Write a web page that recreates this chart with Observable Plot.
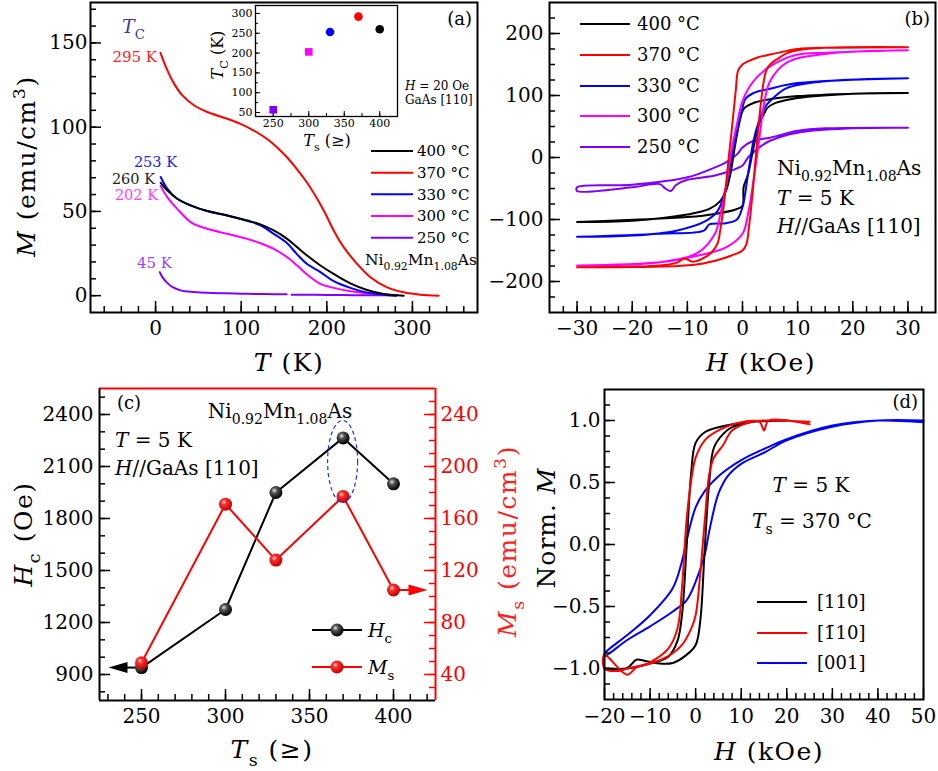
<!DOCTYPE html>
<html><head><meta charset="utf-8">
<script src="https://cdn.jsdelivr.net/npm/d3@7"></script>
<script src="https://cdn.jsdelivr.net/npm/@observablehq/plot@0.6"></script>
<style>
body{margin:0;background:#fff;}
#wrap{position:relative;width:938px;height:771px;overflow:hidden;background:#fff;}
#wrap svg{position:absolute;}
</style></head><body><div id="wrap"></div>
<script>
// ---------------- DATA ----------------
// Panel (a): M (emu/cm3) vs T (K)
const aT400 = [6, 13.6, 25.3, 40.8, 60.3, 83.7, 107, 122.5, 138, 153.7, 165.3, 177, 192.5, 208, 227.5, 247, 266.4, 289.8];
const aM400 = [67, 62.5, 57.5, 53.6, 50.2, 47.6, 44.6, 42.3, 38.7, 33.7, 28.8, 23.8, 17.9, 12.9, 7.3, 3.4, 1.0, 0];
const aT370 = [5.8, 13.6, 21.4, 31.1, 44.7, 60.3, 83.7, 99.2, 114.7, 130.3, 142, 153.7, 165.3, 177, 188.7, 198.4, 208, 219.7, 235.3, 250.9, 270.4, 289.8, 309.2, 330.6];
const aM370 = [144, 134, 126, 119, 113, 109, 105, 102, 98, 93, 88, 82, 75, 67, 57.5, 48.6, 38.7, 28.8, 18.9, 10.9, 4.9, 2.0, 0.6, 0];
const aT330 = [6, 13.6, 25.3, 40.8, 60.3, 83.7, 107, 122.5, 138, 153.7, 165.3, 177, 192.5, 208, 227.5, 247, 266.4, 281];
const aM330 = [70.4, 63.5, 57.5, 53.6, 50.2, 47.6, 44.4, 41.8, 36.7, 31.1, 24.5, 18.8, 14, 8.6, 4.6, 1.8, 0.6, 0];
const aT300 = [6, 13.6, 25.3, 42.8, 60.3, 83.7, 107, 122.5, 138, 153.7, 165.3, 177, 192.5, 208, 227.5, 247, 266.4, 282];
const aM300 = [65, 58.5, 51.5, 43, 39.7, 36.7, 33.7, 31.1, 27.8, 22.8, 17.9, 12.5, 7.0, 4.6, 2.6, 1.4, 0.8, 0.2];
const aT250 = [5, 8, 13, 20, 30, 45, 60, 80, 100, 120, 140, 153, 156, 159, 180, 200, 230, 260, 281];
const aM250 = [13.9, 11, 7.9, 5, 3, 2.2, 1.7, 1.4, 1.2, 1.0, 0.9, 0.8, NaN, 0.6, 0.5, 0.4, 0.3, 0.2, 0.1];
const aLabels = ["400 °C", "370 °C", "330 °C", "300 °C", "250 °C"];

// Inset of (a): Tc vs Ts
const insetTs = [250, 300, 330, 370, 400];
const insetTc = [57, 203, 253, 292, 260];

// Panel (b): M vs H loops (descending then ascending branch)
const bH400 = [30,20,10,5,2,0.5,0,-0.5,-1,-1.5,-2.2,-3,-4,-6,-10,-20,-30, -30,-10,-5,-1,0,0.2,1,2,3,4,4.5,6,10,20,30];
const bM400 = [104,103,99,94,88,81,75,59,37,11,-27,-54,-70,-83,-92,-102,-104, -104,-96,-91,-83,-78,-48,-27,16,54,72,80,88,96,103,104];
const bH370 = [30,15,10,8,5,3,1,0,-0.8,-1.2,-1.6,-2,-2.5,-3,-3.5,-4,-4.5,-5.5,-7,-9,-10.5,-12,-15,-20,-30, -30,-15,-8,-4,-2,0,0.7,1.2,1.8,2.3,2.8,3.3,3.8,4.3,5,6.5,8,10,15,30];
const bM370 = [178,177,175,172,166,162,155,150,140,110,75,40,0,-45,-85,-115,-138,-152,-162,-168,-163,-170,-174,-176,-177, -177,-176,-172,-164,-158,-150,-140,-110,-60,-10,40,85,120,140,150,160,168,173,177,178];
const bH330 = [30,10,5,2,0.5,0,-1,-2,-3,-4.5,-7,-12,-20,-30, -30,-15,-7,-6,-3,-1,0,1,2,3,4,5,8,15,30];
const bM330 = [128,120,111,104,94,80,43,0,-48,-86,-104,-118,-126,-128, -128,-123,-118,-108,-106,-100,-80,-27,27,59,80,91,112,123,128];
const bH300 = [30,15,10,5,2,0,-1,-2,-3,-4,-5,-8,-15,-30, -30,-15,-8,-3,0,1,2,3,4,5,8,15,30];
const bM300 = [173,169,166,147,123,91,54,11,-48,-91,-123,-153,-169,-174, -174,-169,-158,-145,-123,-91,-37,27,91,123,153,167,173];
const bH250 = [30,15,10,5,2,0,-1,-3,-5,-10,-20,-30, -30,-20,-15,-14,-13,-12,-10,-5,-2,0,1,3,5,10,20,30];
const bM250 = [48,47,43,32,27,16,5,-8,-16,-32,-44,-48, -54,-48,-43,-50,-54,-44,-36,-29,-21,-13,0,16,27,40,47,48];

// Panel (c): Hc and Ms vs Ts
const cTs = [250, 300, 330, 370, 400];
const cHc = [940, 1275, 1950, 2265, 2000];
const cMs = [49, 171, 128, 177, 105];

// Panel (d): normalized loops
const dH110 = [20,12,10,5,2,0,-1,-2,-3,-4,-6,-10,-15,-20, -20,-15,-13,-11,-8,-5,-2,0,1,2,3,4,6,8,12,20];
const dM110 = [1.0,0.99,0.98,0.946,0.905,0.82,0.57,-0.03,-0.57,-0.78,-0.905,-0.96,-1.0,-1.0, -1.0,-0.995,-0.93,-0.94,-0.96,-0.955,-0.89,-0.81,-0.62,-0.03,0.51,0.78,0.89,0.946,0.986,1.0];
const dHb10 = [25,16,15,14,10,5,2,0,-1,-2,-3,-4,-6,-10,-13,-15,-20, -20,-17,-15,-10,-6,-3,-1,0,1,2,3,4,6,8,12,15,25];
const dMb10 = [0.97,1.0,0.92,0.99,0.986,0.92,0.84,0.70,0.51,0.19,-0.35,-0.68,-0.84,-0.95,-0.99,-1.05,-0.89, -1.0,-1.02,-1.0,-0.96,-0.9,-0.81,-0.68,-0.57,-0.24,0.19,0.57,0.70,0.80,0.92,0.986,1.0,0.99];
const dH001 = [50,40,30,20,15,10,5,2,0,-2,-3,-5,-10,-15,-20, -20,-15,-10,-5,-2,0,2,3,5,7,10,15,20,30,40,50];
const dM001 = [0.986,1.0,0.96,0.85,0.77,0.68,0.55,0.43,0.30,0.03,-0.135,-0.35,-0.57,-0.73,-0.88, -0.9,-0.77,-0.66,-0.54,-0.45,-0.30,-0.08,0.11,0.41,0.55,0.65,0.74,0.84,0.95,1.0,1.0];
const dLabels = ["[110]", "[1\u030410]", "[001]"];

// ---------------- HELPERS ----------------
const wrap = document.getElementById("wrap");
const FONT = "'DejaVu Serif', serif";
const baseStyle = {fontFamily: FONT, fontSize: "20px", background: "transparent", overflow: "visible"};
const MINUS = "\u2212";
const fInt = d => (d < 0 ? MINUS : "") + Math.abs(d);
const fOne = d => (d < 0 ? MINUS : "") + Math.abs(d).toFixed(1);
const rows = (xs, ys) => xs.map((x, i) => ({x, y: ys[i]}));
const I = t => ({t, it: true}), SB = t => ({t, sub: true}), SP = t => ({t, sup: true});
const FORMULA = ["Ni", SB("0.92"), "Mn", SB("1.08"), "As"];

function place(svg, left, top) {
  svg.style.position = "absolute";
  svg.style.left = left + "px";
  svg.style.top = top + "px";
  wrap.appendChild(svg);
}
function rich(svg, x, y, parts, o = {}) {
  const size = o.size ?? 20;
  const t = d3.select(svg).append("text")
    .attr("x", x).attr("y", y)
    .attr("font-size", size).attr("font-family", FONT)
    .attr("fill", o.fill ?? "black")
    .attr("text-anchor", o.anchor ?? "start")
    .style("white-space", "pre");
  if (o.ls) t.attr("letter-spacing", o.ls);
  if (o.rotate) t.attr("transform", `rotate(${o.rotate} ${x} ${y})`);
  let shift = 0;
  for (const p of parts) {
    const q = typeof p === "string" ? {t: p} : p;
    const target = q.sub ? 0.3 * size : q.sup ? -0.4 * size : 0;
    const s = t.append("tspan").text(q.t);
    if (target !== shift) { s.attr("dy", target - shift); shift = target; }
    if (q.sub || q.sup) s.attr("font-size", 0.7 * size);
    if (q.it) s.attr("font-style", "italic");
  }
  return t;
}
function legendLines(svg, x1, x2, ys, colors, labels, size, gap) {
  const g = d3.select(svg);
  ys.forEach((y, i) => {
    g.append("line").attr("x1", x1).attr("x2", x2).attr("y1", y).attr("y2", y)
      .attr("stroke", colors[i]).attr("stroke-width", 2);
    rich(svg, x2 + gap, y + size * 0.36, [labels[i]], {size});
  });
}
// inward ticks
function ticksBottom(minor, major, plotH, color = "black") {
  return [
    Plot.tickX(minor, {x: d => d, insetTop: plotH - 6, stroke: color, strokeWidth: 1.5}),
    Plot.tickX(major, {x: d => d, insetTop: plotH - 11, stroke: color, strokeWidth: 1.5})
  ];
}
function ticksLeft(minor, major, plotW, color = "black") {
  return [
    Plot.tickY(minor, {y: d => d, insetRight: plotW - 6, stroke: color, strokeWidth: 1.5}),
    Plot.tickY(major, {y: d => d, insetRight: plotW - 11, stroke: color, strokeWidth: 1.5})
  ];
}
function ticksRight(minor, major, plotW, color = "black") {
  return [
    Plot.tickY(minor, {y: d => d, insetLeft: plotW - 6, stroke: color, strokeWidth: 1.5}),
    Plot.tickY(major, {y: d => d, insetLeft: plotW - 11, stroke: color, strokeWidth: 1.5})
  ];
}

const COLORS = {c400: "#000000", c370: "#ff0000", c330: "#0000ff", c300: "#ff00ff", c250: "#8000ff"};
const legendColors = [COLORS.c400, COLORS.c370, COLORS.c330, COLORS.c300, COLORS.c250];

// ---------------- PANEL (a) ----------------
{
  const W = 490, H = 380, mL = 90, mR = 13, mT = 2, mB = 68;
  const pw = W - mL - mR, ph = H - mT - mB;
  const series = [[aT250, aM250, COLORS.c250], [aT300, aM300, COLORS.c300], [aT330, aM330, COLORS.c330],
                  [aT400, aM400, COLORS.c400], [aT370, aM370, COLORS.c370]];
  const svg = Plot.plot({
    width: W, height: H, marginLeft: mL, marginRight: mR, marginTop: mT, marginBottom: mB,
    style: baseStyle,
    x: {domain: [-76, 376]}, y: {domain: [-10, 174]},
    marks: [
      ...series.map(([xs, ys, c]) => Plot.line(rows(xs, ys), {x: "x", y: "y", stroke: c, strokeWidth: 2, curve: "catmull-rom"})),
      ...ticksBottom(d3.range(-60, 361, 20), [0, 100, 200, 300], ph),
      ...ticksLeft(d3.range(0, 171, 10), [0, 50, 100, 150], pw),
      Plot.axisX([0, 100, 200, 300], {tickSize: 0, tickPadding: 8, fontSize: 20, label: null, tickFormat: fInt}),
      Plot.axisY([0, 50, 100, 150], {tickSize: 0, tickPadding: 3, fontSize: 20, label: null, tickFormat: fInt}),
      Plot.frame({strokeWidth: 2})
    ]
  });
  rich(svg, 472, 25, ["(a)"], {size: 18, anchor: "end"});
  rich(svg, 122, 33, [I("T"), SB("C")], {size: 19, fill: "#3a3aa0"});
  rich(svg, 157, 62, ["295 K"], {size: 15, anchor: "end", fill: "#ff2020"});
  rich(svg, 177, 167, ["253 K"], {size: 14.5, anchor: "end", fill: "#2020e8"});
  rich(svg, 155, 184, ["260 K"], {size: 14.5, anchor: "end", fill: "#222"});
  rich(svg, 158, 200, ["202 K"], {size: 14.5, anchor: "end", fill: "#ff40ff"});
  rich(svg, 172, 268, ["45 K"], {size: 15, anchor: "end", fill: "#a040ff"});
  legendLines(svg, 371, 413, [151, 172.7, 194.3, 216, 237.7], legendColors, aLabels, 15, 4);
  rich(svg, 365, 265, FORMULA, {size: 15.5});
  rich(svg, 405, 90, [I("H"), " = 20 Oe"], {size: 12});
  rich(svg, 405, 104, ["GaAs [110]"], {size: 12});
  rich(svg, 35, 166, [I("M"), " (emu/cm", SP("3"), ")"], {size: 25, anchor: "middle", rotate: -90, ls: 1.5});
  rich(svg, 289, 371, [I("T"), " (K)"], {size: 25, anchor: "middle", ls: 1.5});
  place(svg, 0, 0);
}

// ---------------- INSET of (a) ----------------
{
  const W = 200, H = 150, mL = 55, mR = 3, mT = 5, mB = 34;
  const pw = W - mL - mR, ph = H - mT - mB;
  const insetColors = [COLORS.c250, COLORS.c300, COLORS.c330, COLORS.c370, COLORS.c400];
  const pts = insetTs.map((t, i) => ({x: t, y: insetTc[i], c: insetColors[i]}));
  const svg = Plot.plot({
    width: W, height: H, marginLeft: mL, marginRight: mR, marginTop: mT, marginBottom: mB,
    style: {...baseStyle, fontSize: "11px"},
    x: {domain: [225, 425]}, y: {domain: [40, 320]},
    color: {type: "identity"},
    marks: [
      Plot.tickX(d3.range(250, 401, 25), {x: d => d, insetTop: ph - 3, strokeWidth: 1}),
      Plot.tickX([250, 300, 350, 400], {x: d => d, insetTop: ph - 5, strokeWidth: 1}),
      Plot.tickY(d3.range(50, 301, 25), {y: d => d, insetRight: pw - 3, strokeWidth: 1}),
      Plot.tickY(d3.range(50, 301, 50), {y: d => d, insetRight: pw - 5, strokeWidth: 1}),
      Plot.dot(pts.slice(0, 2), {x: "x", y: "y", fill: "c", symbol: "square", r: 4.3}),
      Plot.dot(pts.slice(2), {x: "x", y: "y", fill: "c", symbol: "circle", r: 4.3}),
      Plot.axisX([250, 300, 350, 400], {tickSize: 0, tickPadding: 3, fontSize: 11, label: null, tickFormat: fInt}),
      Plot.axisY(d3.range(50, 301, 50), {tickSize: 0, tickPadding: 3, fontSize: 11, label: null, tickFormat: fInt}),
      Plot.frame({strokeWidth: 1.3})
    ]
  });
  rich(svg, 23, 55, [I("T"), SB("C"), " (K)"], {size: 16, anchor: "middle", rotate: -90});
  rich(svg, 127, 146, [I("T"), SB("s"), " (\u2265)"], {size: 16, anchor: "middle"});
  place(svg, 200, 0);
}

// ---------------- PANEL (b) ----------------
{
  const W = 448, H = 380, mL = 59, mR = 3, mT = 2, mB = 68;
  const pw = W - mL - mR, ph = H - mT - mB;
  const series = [[bH250, bM250, COLORS.c250], [bH400, bM400, COLORS.c400], [bH330, bM330, COLORS.c330],
                  [bH300, bM300, COLORS.c300], [bH370, bM370, COLORS.c370]];
  const svg = Plot.plot({
    width: W, height: H, marginLeft: mL, marginRight: mR, marginTop: mT, marginBottom: mB,
    style: baseStyle,
    x: {domain: [-35, 35]}, y: {domain: [-250, 250]},
    marks: [
      ...series.map(([xs, ys, c]) => Plot.line(rows(xs, ys), {x: "x", y: "y", stroke: c, strokeWidth: 2, curve: "catmull-rom"})),
      ...ticksBottom(d3.range(-32.5, 32.6, 2.5), d3.range(-30, 31, 10), ph),
      ...ticksLeft(d3.range(-225, 226, 25), [-200, -100, 0, 100, 200], pw),
      Plot.axisX(d3.range(-30, 31, 10), {tickSize: 0, tickPadding: 8, fontSize: 20, label: null, tickFormat: fInt}),
      Plot.axisY([-200, -100, 0, 100, 200], {tickSize: 0, tickPadding: 6, fontSize: 20, label: null, tickFormat: fInt}),
      Plot.frame({strokeWidth: 2})
    ]
  });
  rich(svg, 440, 25, ["(b)"], {size: 18, anchor: "end"});
  legendLines(svg, 90, 140, [24, 55, 86, 116, 147], legendColors, aLabels, 18, 7);
  rich(svg, 287, 175, FORMULA, {size: 20});
  rich(svg, 287, 205, [I("T"), " = 5 K"], {size: 20});
  rich(svg, 287, 233, [I("H"), "//GaAs [110]"], {size: 20});
  rich(svg, 271, 371, [I("H"), " (kOe)"], {size: 25, anchor: "middle", ls: 1.5});
  place(svg, 490, 0);
}

// ---------------- PANEL (c) ----------------
{
  const W = 490, H = 391, mL = 99, mR = 55, mT = 8, mB = 71;
  const pw = W - mL - mR, ph = H - mT - mB;
  const msToHc = m => 750 + (m - 20) * 7.5;       // right axis [20,260] aligned with left [750,2550]
  const hcToMs = h => (h - 750) / 7.5 + 20;
  const hcRows = cTs.map((t, i) => ({x: t, y: cHc[i]}));
  const msRows = cTs.map((t, i) => ({x: t, y: msToHc(cMs[i])}));
  // arrow annotations (pointing to the axis each series belongs to)
  const arrowFrom = [250, 400], arrowTo = [236.3, 414.3];
  const arrowY = [cHc[0], msToHc(cMs[4])];
  const arrowRows = arrowFrom.map((x1, i) => ({x1, x2: arrowTo[i], y: arrowY[i], c: i ? "red" : "black"}));
  const head = {draw(ctx) { ctx.moveTo(10, 0); ctx.lineTo(-9, -5.5); ctx.lineTo(-9, 5.5); ctx.closePath(); }};
  const svg = Plot.plot({
    width: W, height: H, marginLeft: mL, marginRight: mR, marginTop: mT, marginBottom: mB,
    style: baseStyle,
    x: {domain: [225, 425]}, y: {domain: [750, 2550]},
    marks: [
      ...ticksBottom(d3.range(230, 421, 10), [250, 300, 350, 400], ph),
      ...ticksLeft(d3.range(800, 2501, 100), d3.range(900, 2401, 300), pw),
      ...ticksRight(d3.range(30, 251, 10).map(msToHc), d3.range(40, 241, 40).map(msToHc), pw, "red"),
      Plot.link(arrowRows, {x1: "x1", x2: "x2", y1: "y", y2: "y", stroke: "c", strokeWidth: 2}),
      Plot.dot(arrowRows.slice(0, 1), {x: "x2", y: "y", fill: "black", stroke: null, symbol: head, rotate: 180, r: 5}),
      Plot.dot(arrowRows.slice(1), {x: "x2", y: "y", fill: "red", stroke: null, symbol: head, rotate: 0, r: 5}),
      Plot.line(hcRows, {x: "x", y: "y", stroke: "black", strokeWidth: 2}),
      Plot.line(msRows, {x: "x", y: "y", stroke: "red", strokeWidth: 2}),
      Plot.dot(hcRows, {x: "x", y: "y", r: 6.5, fill: "url(#gBlack)", stroke: null}),
      Plot.dot(msRows, {x: "x", y: "y", r: 6.5, fill: "url(#gRed)", stroke: null}),
      Plot.axisX([250, 300, 350, 400], {tickSize: 0, tickPadding: 8, fontSize: 20, label: null, tickFormat: fInt}),
      Plot.axisY(d3.range(900, 2401, 300), {anchor: "left", tickSize: 0, tickPadding: 6, fontSize: 20, label: null, tickFormat: fInt}),
      Plot.axisY(d3.range(40, 241, 40).map(msToHc), {anchor: "right", color: "red", tickSize: 0, tickPadding: 5, fontSize: 20, label: null, tickFormat: h => String(Math.round(hcToMs(h)))}),
      Plot.ruleX([425], {stroke: "red", strokeWidth: 2}),
      Plot.ruleY([2550], {stroke: "red", strokeWidth: 2}),
      Plot.ruleX([225], {stroke: "black", strokeWidth: 2}),
      Plot.ruleY([750], {stroke: "black", strokeWidth: 2})
    ]
  });
  const g = d3.select(svg);
  const defs = g.insert("defs", ":first-child");
  const grad = (id, stops) => {
    const rg = defs.append("radialGradient").attr("id", id).attr("cx", "38%").attr("cy", "35%").attr("r", "65%");
    stops.forEach(([o, c]) => rg.append("stop").attr("offset", o).attr("stop-color", c));
  };
  grad("gBlack", [["0%", "#e0e0e0"], ["35%", "#505050"], ["100%", "#000"]]);
  grad("gRed", [["0%", "#ffe0e0"], ["30%", "#ff3030"], ["100%", "#c00000"]]);
  // dashed ellipse highlighting Ts = 370
  const sx = svg.scale("x"), sy = svg.scale("y");
  g.append("ellipse").attr("cx", sx.apply(370)).attr("cy", sy.apply(2126)).attr("rx", 15).attr("ry", 41)
    .attr("fill", "none").attr("stroke", "#2030ff").attr("stroke-width", 1.2).attr("stroke-dasharray", "4,3");
  rich(svg, 117, 29, ["(c)"], {size: 18});
  rich(svg, 280, 38, FORMULA, {size: 20, anchor: "middle"});
  rich(svg, 115, 67, [I("T"), " = 5 K"], {size: 20});
  rich(svg, 115, 95, [I("H"), "//GaAs [110]"], {size: 20});
  // legend
  [["black", "url(#gBlack)", 250, [I("H"), SB("c")]], ["red", "url(#gRed)", 287, [I("M"), SB("s")]]].forEach(([c, f, y, lab]) => {
    g.append("line").attr("x1", 312).attr("x2", 362).attr("y1", y).attr("y2", y).attr("stroke", c).attr("stroke-width", 2);
    g.append("circle").attr("cx", 337).attr("cy", y).attr("r", 6.5).attr("fill", f);
    rich(svg, 368, y + 7, lab, {size: 19});
  });
  rich(svg, 32, 154, [I("H"), SB("c"), " (Oe)"], {size: 25, anchor: "middle", rotate: -90, ls: 1.5});
  rich(svg, 516, 161, [I("M"), SB("s"), " (emu/cm", SP("3"), ")"], {size: 25, anchor: "middle", rotate: -90, fill: "#ff2020", ls: 1.5});
  rich(svg, 272, 378, [I("T"), SB("s"), " (\u2265)"], {size: 25, anchor: "middle", ls: 1.5});
  place(svg, 0, 380);
}

// ---------------- PANEL (d) ----------------
{
  const W = 448, H = 391, mL = 114, mR = 15, mT = 9, mB = 72;
  const pw = W - mL - mR, ph = H - mT - mB;
  const series = [[dH001, dM001, "#0000ff"], [dH110, dM110, "#000000"], [dHb10, dMb10, "#ff0000"]];
  const svg = Plot.plot({
    width: W, height: H, marginLeft: mL, marginRight: mR, marginTop: mT, marginBottom: mB,
    style: baseStyle,
    x: {domain: [-20, 50]}, y: {domain: [-1.25, 1.25]},
    marks: [
      ...series.map(([xs, ys, c]) => Plot.line(rows(xs, ys), {x: "x", y: "y", stroke: c, strokeWidth: 2, curve: "catmull-rom"})),
      ...ticksBottom(d3.range(-18, 49, 2), d3.range(-20, 51, 10), ph),
      ...ticksLeft(d3.range(-1.125, 1.126, 0.125), [-1, -0.5, 0, 0.5, 1], pw),
      Plot.axisX(d3.range(-20, 51, 10), {tickSize: 0, tickPadding: 9, fontSize: 20, label: null, tickFormat: fInt}),
      Plot.axisY([-1, -0.5, 0, 0.5, 1], {tickSize: 0, tickPadding: 4, fontSize: 20, label: null, tickFormat: fOne}),
      Plot.frame({strokeWidth: 2})
    ]
  });
  rich(svg, 428, 28, ["(d)"], {size: 18, anchor: "end"});
  rich(svg, 321, 112, [I("T"), " = 5 K"], {size: 20, anchor: "middle"});
  rich(svg, 322, 148, [I("T"), SB("s"), " = 370 °C"], {size: 20, anchor: "middle"});
  legendLines(svg, 267, 317, [222, 253, 283], ["#000000", "#ff0000", "#0000ff"], dLabels, 18, 10);
  rich(svg, 65, 148, ["Norm. ", I("M")], {size: 25, anchor: "middle", rotate: -90, ls: 1});
  rich(svg, 279, 380, [I("H"), " (kOe)"], {size: 25, anchor: "middle", ls: 1.5});
  place(svg, 490, 380);
}
</script></body></html>
